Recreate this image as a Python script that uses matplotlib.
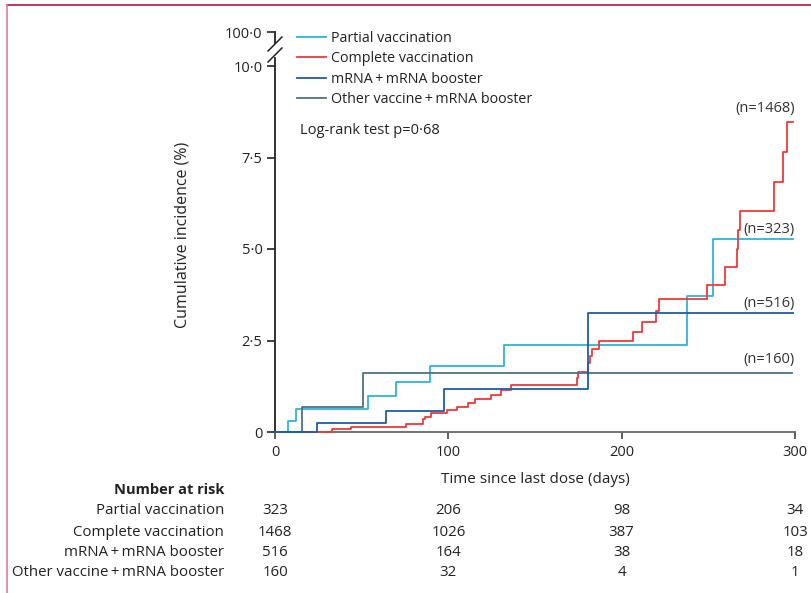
import matplotlib
matplotlib.use("Agg")
import matplotlib.pyplot as plt
from matplotlib.lines import Line2D

# ---- data ----
partial_t = [0, 7.7, 11.9, 53.8, 69.8, 89.4, 132, 237.5, 252.5, 299]
partial_y = [0, 0.31, 0.62, 0.99, 1.37, 1.81, 2.38, 3.72, 5.28, 5.28]

complete_t = [0, 32.7, 43.7, 75.6, 85.2, 86.5, 89.8, 99.4, 105.2, 111.2, 115.4, 124.4,
              130.2, 136.2, 174, 175, 180.8, 181.7, 182.9, 187.1, 206.7, 212, 219.6,
              221.7, 249.4, 259.6, 266.4, 267.3, 268.3, 288, 293.3, 295.2, 299]
complete_y = [0, 0.07, 0.15, 0.23, 0.35, 0.42, 0.51, 0.60, 0.69, 0.80, 0.89, 1.02,
              1.15, 1.28, 1.47, 1.65, 1.88, 2.08, 2.27, 2.49, 2.74, 3.01, 3.31,
              3.63, 4.02, 4.50, 4.99, 5.52, 6.05, 6.84, 7.66, 8.48, 8.48]

mrna_t = [0, 24, 64, 97.7, 180.8, 299]
mrna_y = [0, 0.24, 0.58, 1.17, 3.24, 3.24]

other_t = [0, 15.4, 50.6, 298]
other_y = [0, 0.68, 1.62, 1.62]

series_names = ["Partial vaccination", "Complete vaccination",
                "mRNA\u2009+\u2009mRNA booster", "Other vaccine\u2009+\u2009mRNA booster"]
series_n = ["(n=323)", "(n=1468)", "(n=516)", "(n=160)"]
n_label_y = [5.52, 8.83, 3.52, 1.97]

risk_times = [0, 100, 200, 300]
risk_partial = [323, 206, 98, 34]
risk_complete = [1468, 1026, 387, 103]
risk_mrna = [516, 164, 38, 18]
risk_other = [160, 32, 4, 1]

x_ticks = [0, 100, 200, 300]
y_ticks = [0, 2.5, 5.0, 7.5, 10.0]
y_ticklabels = ["0", "2\u00b75", "5\u00b70", "7\u00b75", "10\u00b70"]

colors = ["#2fb3d6", "#f0383a", "#1f5ba8", "#4d7285"]

FONT = ["Open Sans", "DejaVu Sans"]
plt.rcParams["font.family"] = FONT

W, H = 812, 593
fig = plt.figure(figsize=(W / 100, H / 100), dpi=100)

x0, x1 = 275, 795
y0 = 432
ppu = 36.6
ytop = 11.2
ax = fig.add_axes([x0 / W, 1 - y0 / H, (x1 - x0) / W, (ytop * ppu) / H])
ax.set_xlim(0, 300)
ax.set_ylim(0, ytop)

data = [(partial_t, partial_y), (complete_t, complete_y), (mrna_t, mrna_y), (other_t, other_y)]
order = [0, 1, 3, 2]
handles = [None] * 4
for i in order:
    t, y = data[i]
    h, = ax.step(t, y, where="post", color=colors[i], lw=1.3, label=series_names[i],
                 clip_on=False, zorder=3)
    handles[i] = h

for i in range(4):
    ax.text(300, n_label_y[i], series_n[i], ha="right", va="center", fontsize=10.5,
            color="#333333")

ax.text(14.4, 8.25, "Log-rank test p=0\u00b768", ha="left", va="center", fontsize=10.5,
        color="#222222")

# spines
for s in ["top", "right", "left"]:
    ax.spines[s].set_visible(False)
ax.spines["bottom"].set_color("#666666")
ax.spines["bottom"].set_linewidth(1.3)

ax.set_xticks(x_ticks)
ax.set_xticklabels([str(v) for v in x_ticks])
ax.tick_params(axis="x", length=5, width=1.2, color="#444444", labelsize=10.5,
               labelcolor="#222222", pad=4)

# y axis with break
y100 = (432 - 32) / ppu
ax.set_yticks(y_ticks + [y100])
ax.set_yticklabels(y_ticklabels + ["100\u00b70"])
ax.tick_params(axis="y", length=6, width=1.2, color="#222222", labelsize=10.5,
               labelcolor="#222222", pad=3)
ybreak_lo = (432 - 58) / ppu
ybreak_hi = (432 - 43) / ppu
ax.plot([0, 0], [0, ybreak_lo], color="#222222", lw=1.3, clip_on=False)
ax.plot([0, 0], [ybreak_hi, y100], color="#222222", lw=1.3, clip_on=False)
for off in (0, 11):
    ax.plot([-4, 4], [(432 - 62 + off) / ppu, (432 - 48 + off) / ppu],
            color="#222222", lw=1.1, clip_on=False)

ax.set_xlabel("Time since last dose (days)", fontsize=11, color="#222222", labelpad=9)
ax.set_ylabel("Cumulative incidence (%)", fontsize=11.5, color="#222222")
ax.yaxis.set_label_coords(-0.163, 0.48)

leg = ax.legend(handles=handles, loc="upper left", frameon=False, fontsize=10.3,
                bbox_to_anchor=(297 / W, 1 - 31 / H), bbox_transform=fig.transFigure,
                handlelength=2.0, handletextpad=0.35, borderpad=0, borderaxespad=0,
                labelspacing=0.38)
for t in leg.get_texts():
    t.set_color("#222222")

# number at risk table
lab_x = 224 / W
fig.text(lab_x, 1 - 490 / H, "Number at risk", ha="right", va="center", fontsize=10.5,
         fontweight="bold", color="#222222")
rows = [("Partial vaccination", risk_partial), ("Complete vaccination", risk_complete),
        ("mRNA\u2009+\u2009mRNA booster", risk_mrna),
        ("Other vaccine\u2009+\u2009mRNA booster", risk_other)]
row_y = [511, 532, 552, 573]
for (name, vals), yy in zip(rows, row_y):
    fig.text(lab_x, 1 - yy / H, name, ha="right", va="center", fontsize=10.8,
             color="#222222")
    for tt, v in zip(risk_times, vals):
        xf = (x0 + tt * (x1 - x0) / 300) / W
        fig.text(xf, 1 - yy / H, str(v), ha="center", va="center", fontsize=10.8,
                 color="#222222")

# frame lines
fig.add_artist(Line2D([7 / W, 1], [1 - 5 / H, 1 - 5 / H], transform=fig.transFigure,
                      color="#b8143f", lw=1.2))
fig.add_artist(Line2D([7 / W, 7 / W], [0, 1 - 5 / H], transform=fig.transFigure,
                      color="#e27c9c", lw=1.2))

fig.savefig("out.png", dpi=100)
